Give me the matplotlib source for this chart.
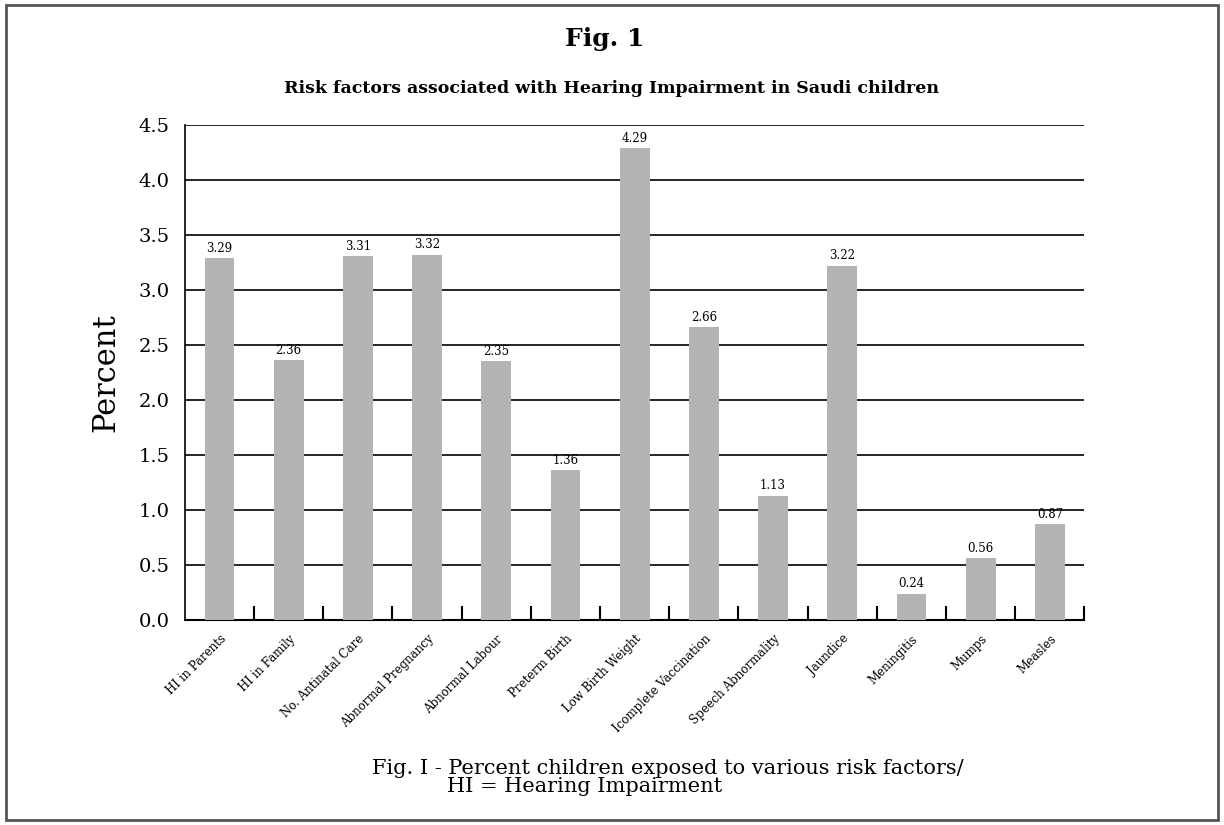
import matplotlib.pyplot as plt
from matplotlib.patches import Rectangle

plt.rcParams['font.family'] = ['DejaVu Serif', 'Liberation Serif']

categories = ['HI in Parents', 'HI in Family', 'No. Antinatal Care', 'Abnormal Pregnancy',
              'Abnormal Labour', 'Preterm Birth', 'Low Birth Weight', 'Icomplete Vaccination',
              'Speech Abnormality', 'Jaundice', 'Meningitis', 'Mumps', 'Measles']
percent = [3.29, 2.36, 3.31, 3.32, 2.35, 1.36, 4.29, 2.66, 1.13, 3.22, 0.24, 0.56, 0.87]
yticks = [0.0, 0.5, 1.0, 1.5, 2.0, 2.5, 3.0, 3.5, 4.0, 4.5]

fig = plt.figure(figsize=(12.24, 8.25), dpi=100)
ax = fig.add_axes([0.151, 0.2485, 0.735, 0.6])

x = range(len(categories))
ax.bar(x, percent, width=0.43, color='#b4b4b4', zorder=3)
for i, v in enumerate(percent):
    ax.text(i, v + 0.03, '{:.2f}'.format(v), ha='center', va='bottom', fontsize=8.5, zorder=4)

ax.set_xlim(-0.5, len(categories) - 0.5)
ax.set_ylim(0, 4.5)
ax.set_yticks(yticks)
ax.set_yticklabels(['{:.1f}'.format(t) for t in yticks], fontsize=14)
ax.yaxis.grid(True, color='black', linewidth=1.2, zorder=0)
ax.tick_params(axis='y', length=0, pad=11)

# category ticks between bars, pointing up
ax.set_xticks(x)
ax.set_xticklabels(categories, rotation=45, ha='right', rotation_mode='anchor', fontsize=8.5)
ax.tick_params(axis='x', which='major', length=0, pad=9)
ax.set_xticks([i + 0.5 for i in x], minor=True)
ax.tick_params(axis='x', which='minor', direction='in', length=10, width=1.5)

for s in ['top', 'right']:
    ax.spines[s].set_visible(False)
ax.spines['left'].set_linewidth(1.2)
ax.spines['bottom'].set_linewidth(1.5)

ax.set_ylabel('Percent', fontsize=22, labelpad=12)

fig.text(0.494, 0.953, 'Fig. 1', ha='center', va='center', fontsize=18, fontweight='bold')
fig.text(0.5, 0.893, 'Risk factors associated with Hearing Impairment in Saudi children',
         ha='center', va='center', fontsize=12.5, fontweight='bold')
fig.text(0.546, 0.069, 'Fig. I - Percent children exposed to various risk factors/',
         ha='center', va='center', fontsize=15)
fig.text(0.365, 0.047, 'HI = Hearing Impairment', ha='left', va='center', fontsize=15)

# page frame
fig.patches.append(Rectangle((0.005, 0.006), 0.99, 0.988, transform=fig.transFigure,
                             fill=False, edgecolor='#555555', linewidth=2))

plt.savefig('out.png')
